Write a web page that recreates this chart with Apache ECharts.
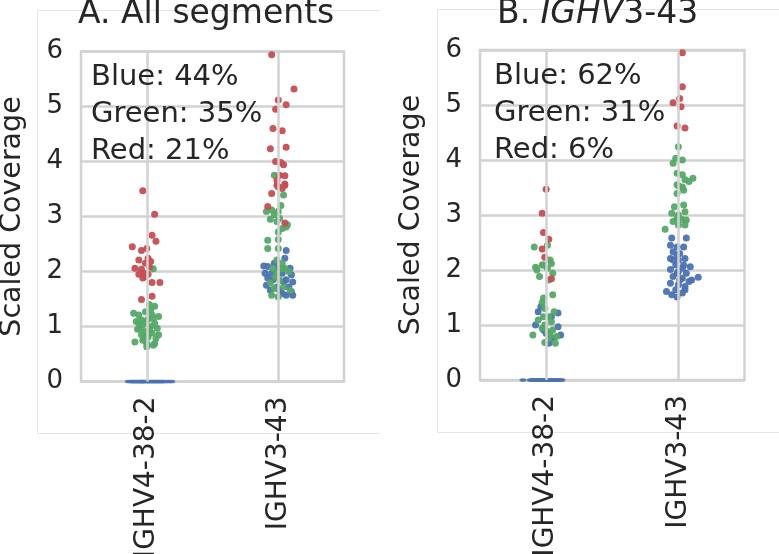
<!DOCTYPE html>
<html>
<head>
<meta charset="utf-8">
<script src="https://cdn.jsdelivr.net/npm/echarts@6/dist/echarts.min.js"></script>
<style>
html, body { margin: 0; padding: 0; background: #fff; }
#chart { width: 779px; height: 554px; }
</style>
</head>
<body>
<div id="chart"></div>
<script>
const categories = ['IGHV4-38-2', 'IGHV3-43'];
const yTicks = [0, 6];
const sharesA = ['Blue: 44%', 'Green: 35%', 'Red: 21%'];
const sharesB = ['Blue: 62%', 'Green: 31%', 'Red: 6%'];

// each point is [jitter, scaled coverage]
const aLeftBlue = [[-0.14,0],[-0.12,0],[-0.11,0],[-0.10,0],[-0.09,0],[-0.08,0],[-0.07,0],[-0.06,0],[-0.05,0],[-0.04,0],[-0.035,0],[-0.03,0],[-0.02,0],[-0.01,0],[0,0],[0.01,0],[0.02,0],[0.03,0],[0.04,0],[0.05,0],[0.06,0],[0.07,0],[0.08,0],[0.09,0],[0.10,0],[0.11,0],[0.12,0],[0.13,0],[0.15,0],[0.17,0],[0.19,0]];
const aLeftGreen = [[0.05,2.05],[0.06,1.37],[-0.10,1.24],[-0.06,1.21],[-0.01,1.27],[0.04,1.21],[0.01,1.13],[-0.04,1.12],[-0.08,1.09],[0.06,1.06],[-0.03,1.03],[0.03,1.00],[-0.05,0.97],[0.08,0.97],[-0.01,0.91],[0.04,0.88],[-0.04,0.85],[0.09,0.85],[0.01,0.81],[-0.09,0.72],[0,0.69],[0.05,0.66],[0.06,0.69],[-0.03,0.75],[-0.06,1.06],[0.02,0.94],[0.05,1.15],[0.09,1.18],[-0.01,1.09],[0.02,1.40],[-0.02,0.80],[0.07,0.78],[-0.07,0.95],[0.03,1.30],[0,0.63]];
const aLeftRed = [[-0.03,3.47],[0.06,3.04],[0.04,2.66],[0.07,2.55],[-0.11,2.45],[-0.04,2.38],[0,2.42],[-0.06,2.21],[0.01,2.24],[0.03,2.18],[-0.01,2.15],[-0.09,2.06],[-0.04,2.04],[0.02,2.08],[-0.02,1.97],[0.01,1.95],[-0.06,1.95],[-0.03,1.88],[0.04,1.80],[0.10,1.80],[0.04,1.55],[-0.04,1.49],[-0.01,1.91]];
const aRightBlue = [[0.06,2.38],[-0.11,2.10],[-0.08,2.09],[0.05,2.24],[0.09,2.06],[-0.05,1.97],[0.10,1.94],[-0.08,1.88],[0.06,1.85],[0.11,1.81],[-0.09,1.75],[-0.01,1.72],[0.08,1.72],[0.10,1.63],[-0.06,1.66],[0.01,1.66],[0.03,1.60],[0.06,1.57],[0.11,1.57],[-0.04,1.85],[0.03,1.97],[-0.10,1.97],[0,2.06],[0.04,1.81],[-0.03,2.15]];
const aRightGreen = [[-0.03,3.75],[0.04,3.39],[-0.09,3.09],[-0.05,3.12],[-0.03,3.03],[0,3.09],[0.01,2.97],[-0.01,2.91],[0.06,2.81],[0.03,2.78],[0,2.72],[-0.08,2.57],[0,2.58],[-0.08,2.42],[0,2.42],[-0.01,2.21],[0.03,2.15],[-0.04,2.06],[0.05,2.06],[-0.01,1.97],[0.01,1.85],[-0.06,1.79],[0.04,1.72],[-0.05,1.57],[0,1.54],[0.09,1.66],[-0.03,1.69],[0.08,2.00],[0.02,3.20],[-0.06,2.95],[0.07,2.85],[0.03,2.05],[-0.02,1.90]];
const aRightRed = [[-0.05,5.94],[0.12,5.32],[0,5.12],[0.06,5.03],[-0.02,4.95],[-0.04,4.60],[0.03,4.56],[-0.06,4.23],[0.06,4.26],[-0.02,4.00],[0.04,3.94],[0.02,3.98],[0.01,3.75],[0.05,3.74],[-0.01,3.66],[0.05,3.57],[0,3.54],[-0.01,3.57],[0.05,3.59],[0.03,3.51],[-0.05,3.42],[-0.08,3.18],[0.05,2.88]];

const bLeftBlue = [[-0.175,0],[-0.12,0],[-0.11,0],[-0.10,0],[-0.09,0],[-0.08,0],[-0.07,0],[-0.06,0],[-0.05,0],[-0.04,0],[-0.03,0],[-0.02,0],[-0.01,0],[0,0],[0.01,0],[0.02,0],[0.03,0],[0.04,0],[0.05,0],[0.06,0],[0.07,0],[0.08,0],[0.09,0],[0.10,0],[0.11,0],[0.12,0],
  [-0.04,1.33],[-0.06,1.24],[0.09,1.22],[0.04,1.15],[-0.08,1.00],[0.09,0.97],[-0.02,0.91],[0.11,0.82],[0.05,0.76],[0.02,0.67],[0,0.85],[-0.02,2.09]];
const bLeftGreen = [[-0.09,2.42],[0.01,2.45],[0.03,2.18],[0.04,2.12],[-0.08,2.05],[-0.03,2.09],[0.01,2.03],[-0.07,2.00],[-0.05,1.88],[0.05,1.94],[0.02,1.82],[-0.02,1.49],[0.05,1.55],[-0.03,1.41],[-0.01,1.30],[0.06,1.24],[-0.02,1.15],[0.02,1.15],[-0.06,1.09],[0.04,1.06],[-0.01,1.00],[-0.03,0.94],[0.05,0.91],[0.01,0.88],[0.03,0.82],[-0.10,0.82],[-0.01,0.68],[0.07,0.67],[0.02,0.76],[0.08,0.79]];
const bLeftRed = [[0,3.47],[-0.03,3.03],[-0.02,2.68],[0.02,2.56],[-0.03,2.38],[-0.01,2.23],[0.04,1.84]];
const bRightBlue = [[-0.05,2.58],[0.06,2.58],[-0.06,2.45],[-0.01,2.42],[-0.04,2.33],[0.01,2.30],[-0.06,2.21],[0,2.18],[0.05,2.21],[-0.02,2.09],[0.04,2.09],[0.09,2.06],[-0.06,2.01],[0,1.97],[0.06,1.94],[0.15,1.87],[-0.04,1.88],[0.03,1.85],[0.10,1.82],[-0.06,1.76],[0,1.73],[0.05,1.70],[-0.02,1.64],[-0.09,1.61],[0.03,1.58],[-0.05,1.55],[-0.01,1.51],[0.08,1.79],[-0.01,2.27],[0.03,2.03],[-0.04,2.18],[0.04,2.42],[-0.01,1.94],[0.01,1.82],[0.05,1.64]];
const bRightGreen = [[0,4.24],[-0.02,4.03],[0.03,4.00],[-0.04,3.94],[-0.01,3.76],[0.03,3.73],[0.11,3.67],[0.05,3.64],[-0.01,3.55],[0.03,3.51],[0,3.53],[0.08,3.61],[0.04,3.45],[-0.01,3.39],[-0.03,3.15],[0.04,3.18],[0.05,3.06],[-0.05,3.03],[0,3.00],[0.03,2.92],[0.06,2.91],[-0.04,2.88],[0,2.82],[-0.10,2.74],[0.05,2.82],[-0.01,2.94]];
const bRightRed = [[0.03,5.95],[0.03,5.33],[0.01,5.12],[-0.04,5.04],[0.02,4.97],[-0.01,4.62],[0.05,4.58]];

const colors = { blue: '#4c72b0', green: '#55a868', red: '#c44e52' };
const font = 'DejaVu Sans';
const textColor = '#262626';
const gridColor = '#d2d2d2';

const grids = [
  { left: 81, top: 51.5, width: 263, height: 330 },
  { left: 480, top: 50, width: 264.5, height: 330 }
];

function place(left, right) {
  return left.map(p => [p[0], p[1]]).concat(right.map(p => [1 + p[0], p[1]]));
}

const panels = [
  { blue: place(aLeftBlue, aRightBlue), green: place(aLeftGreen, aRightGreen), red: place(aLeftRed, aRightRed) },
  { blue: place(bLeftBlue, bRightBlue), green: place(bLeftGreen, bRightGreen), red: place(bLeftRed, bRightRed) }
];

const xAxis = [];
const yAxis = [];
const series = [];
grids.forEach((g, i) => {
  xAxis.push({
    type: 'category', gridIndex: i, data: categories, boundaryGap: true,
    axisLine: { show: false }, axisTick: { show: false }, splitLine: { show: false },
    axisLabel: { rotate: 90, margin: 15, fontSize: 28, color: textColor, fontFamily: font }
  });
  xAxis.push({ type: 'value', gridIndex: i, min: -0.5, max: 1.5, show: false });
  yAxis.push({
    type: 'value', gridIndex: i, min: yTicks[0], max: yTicks[1], interval: 1,
    axisLine: { show: false }, axisTick: { show: false },
    splitLine: { lineStyle: { color: gridColor, width: 2.5 } },
    axisLabel: { fontSize: 26, margin: 18, color: textColor, fontFamily: font },
    name: 'Scaled Coverage', nameLocation: 'middle', nameGap: 54,
    nameTextStyle: { fontSize: 28.5, color: textColor, fontFamily: font }
  });
  series.push({
    type: 'scatter', xAxisIndex: i * 2 + 1, yAxisIndex: i, data: [], z: 1, silent: true,
    markLine: {
      symbol: 'none', silent: true, label: { show: false },
      lineStyle: { color: gridColor, width: 2.5, type: 'solid' },
      data: [{ xAxis: 0 }, { xAxis: 1 }]
    }
  });
  ['blue', 'green', 'red'].forEach(c => {
    series.push({
      type: 'scatter', xAxisIndex: i * 2 + 1, yAxisIndex: i, z: 3,
      data: panels[i][c],
      symbolSize: v => (v[1] === 0 ? [7, 3.5] : 7),
      itemStyle: { color: colors[c], opacity: 0.95 },
      clip: false
    });
  });
});

const titleStyle = { fontSize: 33, fontWeight: 'normal', color: textColor, fontFamily: font };
const chart = echarts.init(document.getElementById('chart'));
chart.setOption({
  animation: false,
  backgroundColor: '#fff',
  title: [
    { text: 'A. All segments', left: 78, top: -2, padding: 0, textStyle: titleStyle },
    { text: '{n|B. }{i|IGHV}{n|3-43}', left: 497, top: -2, padding: 0,
      textStyle: Object.assign({}, titleStyle, {
        rich: {
          n: titleStyle,
          i: Object.assign({}, titleStyle, { fontStyle: 'italic' })
        } }) }
  ],
  grid: grids.map(g => Object.assign({
    show: true, borderColor: gridColor, borderWidth: 2.5, backgroundColor: '#fff',
    containLabel: false, outerBoundsMode: 'none'
  }, g)),
  xAxis: xAxis,
  yAxis: yAxis,
  series: series,
  graphic: [
    { type: 'polyline', silent: true, z: -1, shape: { points: [[380, 10.5], [37.5, 10.5], [37.5, 433.5], [380, 433.5]] },
      style: { stroke: '#e6e6e6', lineWidth: 1, fill: null } },
    { type: 'polyline', silent: true, z: -1, shape: { points: [[779, 9.5], [437.5, 9.5], [437.5, 432.5], [779, 432.5]] },
      style: { stroke: '#e6e6e6', lineWidth: 1, fill: null } },
    { type: 'text', left: 91, top: 59, z: 10, style: { text: sharesA.join('\n'), font: '29px "DejaVu Sans"', lineHeight: 37, fill: textColor } },
    { type: 'text', left: 494, top: 58, z: 10, style: { text: sharesB.join('\n'), font: '29px "DejaVu Sans"', lineHeight: 37, fill: textColor } }
  ]
});
</script>
</body>
</html>
